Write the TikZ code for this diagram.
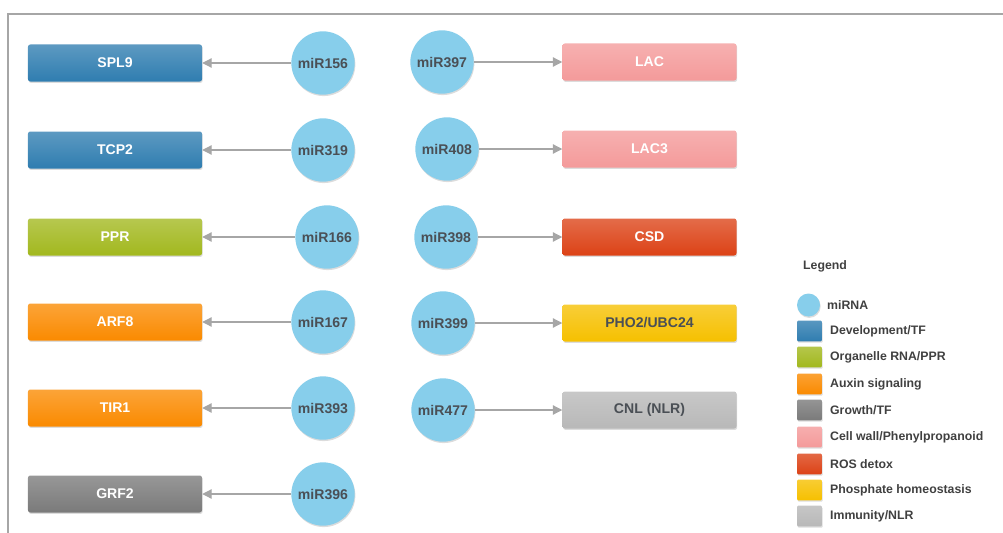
\documentclass[tikz,border=0pt]{standalone}
\usepackage{fontspec}
\setmainfont{Liberation Sans}
\usetikzlibrary{arrows.meta,shadows}
\definecolor{mirna}{HTML}{87CEEB}
\definecolor{mirtext}{HTML}{4A4F55}
\definecolor{devtf}{HTML}{2F7DB0}
\definecolor{organelle}{HTML}{A2B81E}
\definecolor{auxin}{HTML}{FA8A00}
\definecolor{growth}{HTML}{7A7A7A}
\definecolor{cellwall}{HTML}{F49A9A}
\definecolor{rosdetox}{HTML}{DC4216}
\definecolor{phosphate}{HTML}{F6C000}
\definecolor{immunity}{HTML}{B8B8B8}
\definecolor{arrowgray}{HTML}{A6A6A6}
\definecolor{legendtext}{HTML}{404040}
\tikzset{
  soft/.style={drop shadow={opacity=0.28,shadow xshift=0.6pt,shadow yshift=-1.2pt}},
  gene/.style={rectangle,rounded corners=2pt,minimum width=5.22cm,minimum height=1.11cm,
    inner sep=0pt,top color=#1!78!white,bottom color=#1,draw=none,soft,
    text=white,font=\bfseries\fontsize{12}{14}\selectfont},
  mir/.style={circle,fill=mirna,minimum size=1.9cm,inner sep=0pt,soft,
    text=mirtext,font=\bfseries\fontsize{12}{14}\selectfont},
  hit/.style={draw=arrowgray,line width=1pt,-{Triangle[length=8pt,width=8pt]}},
  swatch/.style={rectangle,rounded corners=1pt,minimum width=0.75cm,minimum height=0.62cm,
    inner sep=0pt,top color=#1!80!white,bottom color=#1,soft},
  lab/.style={anchor=west,text=legendtext,font=\bfseries\fontsize{10.5}{12}\selectfont}
}

\begin{document}
\begin{tikzpicture}[x=0.03cm,y=-0.03cm]
   \useasboundingbox (0,0) rectangle (1003,533);
   \draw[arrowgray,line width=1pt] (8,533) -- (8,14) -- (1003,14);
   % left column
   \node[gene=devtf]     (spl9) at (115, 63) {SPL9};
   \node[gene=devtf]     (tcp2) at (115,150) {TCP2};
   \node[gene=organelle] (ppr)  at (115,237) {PPR};
   \node[gene=auxin]     (arf8) at (115,322) {ARF8};
   \node[gene=auxin]     (tir1) at (115,408) {TIR1};
   \node[gene=growth]    (grf2) at (115,494) {GRF2};
   \node[mir] (m156) at (323, 63) {miR156};
   \node[mir] (m319) at (323,150) {miR319};
   \node[mir] (m166) at (327,237) {miR166};
   \node[mir] (m167) at (323,322) {miR167};
   \node[mir] (m393) at (323,408) {miR393};
   \node[mir] (m396) at (323,494) {miR396};
   \draw[hit] (m156) -- (spl9);
   \draw[hit] (m319) -- (tcp2);
   \draw[hit] (m166) -- (ppr);
   \draw[hit] (m167) -- (arf8);
   \draw[hit] (m393) -- (tir1);
   \draw[hit] (m396) -- (grf2);
   % right column
   \node[mir] (m397) at (442, 62) {miR397};
   \node[mir] (m408) at (447,149) {miR408};
   \node[mir] (m398) at (446,237) {miR398};
   \node[mir] (m399) at (443,323) {miR399};
   \node[mir] (m477) at (443,410) {miR477};
   \node[gene=cellwall]  (lac)  at (649.5, 62) {LAC};
   \node[gene=cellwall]  (lac3) at (649.5,149) {LAC3};
   \node[gene=rosdetox]  (csd)  at (649.5,237) {CSD};
   \node[gene=phosphate,text=mirtext] (pho2) at (649.5,323) {PHO2/UBC24};
   \node[gene=immunity,text=mirtext]  (cnl)  at (649.5,410) {CNL (NLR)};
   \draw[hit] (m397) -- (lac);
   \draw[hit] (m408) -- (lac3);
   \draw[hit] (m398) -- (csd);
   \draw[hit] (m399) -- (pho2);
   \draw[hit] (m477) -- (cnl);
   % legend
   \node[lab] (ltitle) at (799,266) {Legend};
   \node[circle,fill=mirna,minimum size=0.69cm,inner sep=0pt,soft] (kmir) at (808.5,305) {};
   \node[lab] (tmir) at (823,305) {miRNA};
   \node[swatch=devtf]     (kdev)  at (809.5,331) {};
   \node[lab] (tdev)  at (826,331) {Development/TF};
   \node[swatch=organelle] (korg)  at (809.5,357) {};
   \node[lab] (torg)  at (826,357) {Organelle RNA/PPR};
   \node[swatch=auxin]     (kaux)  at (809.5,384) {};
   \node[lab] (taux)  at (826,384) {Auxin signaling};
   \node[swatch=growth]    (kgro)  at (809.5,410) {};
   \node[lab] (tgro)  at (826,410) {Growth/TF};
   \node[swatch=cellwall]  (kcell) at (809.5,437) {};
   \node[lab] (tcell) at (826,437) {Cell wall/Phenylpropanoid};
   \node[swatch=rosdetox]  (kros)  at (809.5,464) {};
   \node[lab] (tros)  at (826,464) {ROS detox};
   \node[swatch=phosphate] (kpho)  at (809.5,490) {};
   \node[lab] (tpho)  at (826,490) {Phosphate homeostasis};
   \node[swatch=immunity]  (kimm)  at (809.5,516) {};
   \node[lab] (timm)  at (826,516) {Immunity/NLR};
\end{tikzpicture}
\end{document}
